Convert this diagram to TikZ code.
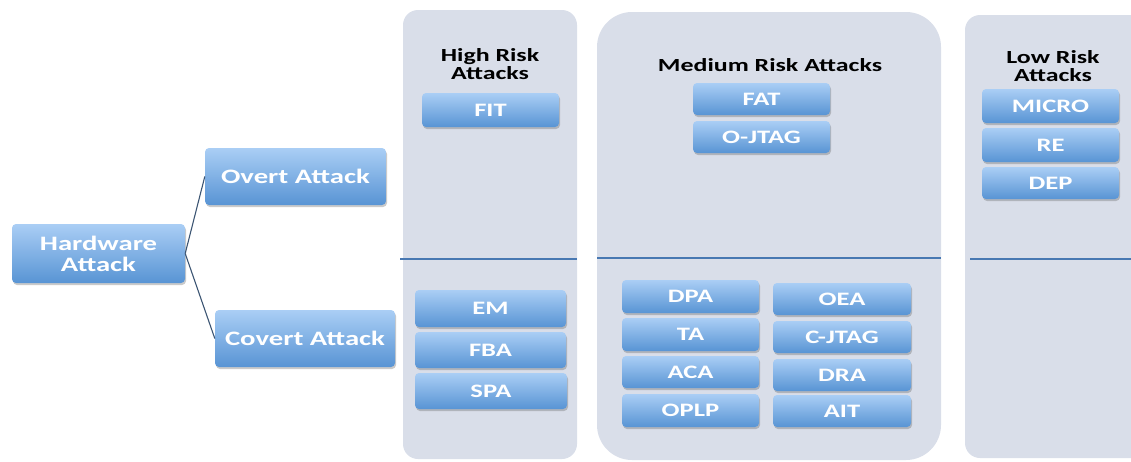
\documentclass[tikz,border=0pt]{standalone}
\usepackage{fontspec}
\newfontfamily\boxfont[FakeStretch=1.4]{Carlito}
\usetikzlibrary{shadows}
\definecolor{boxtop}{RGB}{170,206,245}
\definecolor{boxbot}{RGB}{88,148,212}
\definecolor{panelfill}{RGB}{217,222,233}
\definecolor{divcol}{RGB}{72,120,178}
\definecolor{linkcol}{RGB}{60,85,115}
\tikzset{
  abox/.style={rectangle, rounded corners=4pt, top color=boxtop, bottom color=boxbot,
    draw=none, text=white, align=center, inner sep=0pt,
    font=\boxfont\bfseries\fontsize{19}{20}\selectfont,
    drop shadow={shadow xshift=1pt, shadow yshift=-2pt, opacity=0.35, fill=black!60}},
  bigbox/.style={abox, font=\boxfont\bfseries\fontsize{20.5}{21}\selectfont},
  panel/.style={fill=panelfill, draw=none},
  divider/.style={draw=divcol, line width=2.4pt},
  ptitle/.style={align=center, text=black, inner sep=0pt,
    font=\boxfont\bfseries\fontsize{18.5}{18.5}\selectfont},
  link/.style={draw=linkcol, line width=1.1pt}
}
\begin{document}
\begin{tikzpicture}[x=1pt,y=-1pt]
\useasboundingbox (0,0) rectangle (1131,461);
% panels
\path[panel, rounded corners=15pt] (403,10) rectangle (577,459);
\path[panel, rounded corners=35pt] (597,12) rectangle (941,460);
\path[panel, rounded corners=15pt] (965,15) rectangle (1150,458);
\draw[divider] (400,259) -- (577,259);
\draw[divider] (597,258) -- (941,258);
\draw[divider] (970,259) -- (1131,259);
% titles
\node[ptitle] (thigh) at (490,64) {High Risk\\Attacks};
\node[ptitle] (tmed) at (770,65) {Medium Risk Attacks};
\node[ptitle] (tlow) at (1053,66) {Low Risk\\Attacks};
% left tree
\node[bigbox, minimum width=173pt, minimum height=59pt] (hw) at (98.5,253.5) {Hardware\\Attack};
\node[bigbox, minimum width=181pt, minimum height=57pt] (overt) at (295.5,176.5) {Overt Attack};
\node[bigbox, minimum width=180pt, minimum height=57pt] (covert) at (305,338.5) {Covert Attack};
\draw[link] (hw.east) -- (overt.west);
\draw[link] (hw.east) -- (covert.west);
% high risk
\node[abox, minimum width=137pt, minimum height=34pt] (fit) at (490.5,110) {FIT};
\node[abox, minimum width=151pt, minimum height=37pt] (em) at (490.5,308.5) {EM};
\node[abox, minimum width=151pt, minimum height=36pt] (fba) at (490.5,350) {FBA};
\node[abox, minimum width=152pt, minimum height=36pt] (spa) at (491,391) {SPA};
% medium risk
\node[abox, minimum width=137pt, minimum height=32pt] (fat) at (761.5,99) {FAT};
\node[abox, minimum width=137pt, minimum height=32pt] (ojtag) at (761.5,137) {O-JTAG};
\node[abox, minimum width=137pt, minimum height=33pt] (dpa) at (690.5,296.5) {DPA};
\node[abox, minimum width=137pt, minimum height=33pt] (ta) at (690.5,334.5) {TA};
\node[abox, minimum width=137pt, minimum height=32pt] (aca) at (690.5,372) {ACA};
\node[abox, minimum width=137pt, minimum height=33pt] (oplp) at (690.5,410.5) {OPLP};
\node[abox, minimum width=138pt, minimum height=32pt] (oea) at (842,299) {OEA};
\node[abox, minimum width=138pt, minimum height=32pt] (cjtag) at (842,337) {C-JTAG};
\node[abox, minimum width=138pt, minimum height=32pt] (dra) at (842,375) {DRA};
\node[abox, minimum width=138pt, minimum height=32pt] (ait) at (842,411) {AIT};
% low risk
\node[abox, minimum width=137pt, minimum height=34pt] (micro) at (1050.5,106) {MICRO};
\node[abox, minimum width=137pt, minimum height=34pt] (re) at (1050.5,145) {RE};
\node[abox, minimum width=137pt, minimum height=32pt] (dep) at (1050.5,183) {DEP};
\end{tikzpicture}
\end{document}
